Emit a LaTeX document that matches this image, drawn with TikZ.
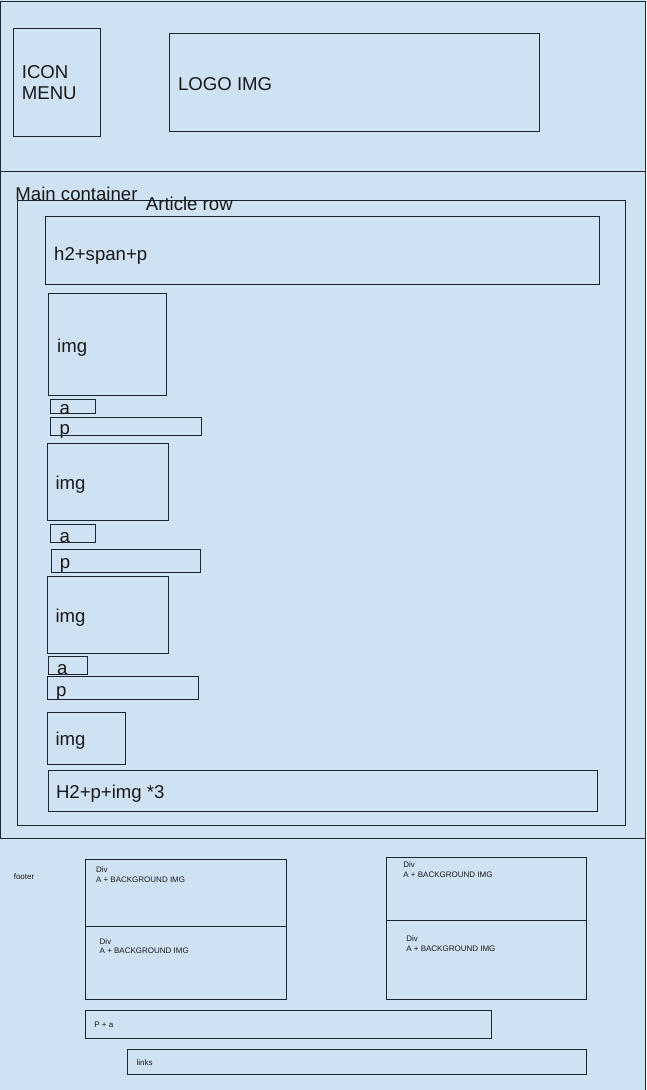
\documentclass[tikz,border=0pt]{standalone}
\usepackage{fontspec}
\setmainfont{Liberation Sans}
\definecolor{bg}{HTML}{CFE2F3}
\definecolor{ln}{HTML}{1C2733}
\begin{document}
\begin{tikzpicture}[x=1pt,y=-1pt,
  box/.style={draw=ln, line width=1pt},
  big/.style={font=\fontsize{18.6}{21}\selectfont, inner sep=0pt, text=black!90},
  small/.style={font=\fontsize{8}{9.7}\selectfont, inner sep=0pt, text=black!90},
]
\fill[bg] (0,0) rectangle (646,1090);
\useasboundingbox (0,0) rectangle (646,1090);
% sections
\draw[box] (0.5,1) rectangle (645.3,171.5);
\draw[box] (0.5,171.5) rectangle (645,838.3);
\draw[box] (-3,838.3) rectangle (645,1095);
% header
\draw[box] (13.6,28.3) rectangle (100.5,136.3);
\node[big, align=left, anchor=north west] (icon) at (21.7,65.7) {ICON\\MENU};
\draw[box] (169.3,33.3) rectangle (539.3,131.3);
\node[big, anchor=base west] (logo) at (177.9,90) {LOGO IMG};
% main
\node[big, anchor=base west] (main) at (15.3,200) {Main container};
\draw[box] (17.3,200.7) rectangle (625.7,825.5);
\node[big, anchor=base west] (row) at (145.7,210.3) {Article row};
\draw[box] (45,216.5) rectangle (599.7,284.4);
\node[big, anchor=base west] (h2) at (54,260) {h2+span+p};
\draw[box] (48.3,293.3) rectangle (166.7,395.3);
\node[big, anchor=base west] (img1) at (57,352) {img};
\draw[box] (50.3,399.3) rectangle (95.3,413.3);
\node[big, anchor=base west] (a1) at (59.3,414) {a};
\draw[box] (50.3,417.3) rectangle (201.7,435.3);
\node[big, anchor=base west] (p1) at (59.3,434) {p};
\draw[box] (47.3,443.3) rectangle (168.3,520.3);
\node[big, anchor=base west] (img2) at (55.3,489.5) {img};
\draw[box] (50.3,524.3) rectangle (95.3,542.3);
\node[big, anchor=base west] (a2) at (59.5,542) {a};
\draw[box] (51.7,549.3) rectangle (200.3,572.3);
\node[big, anchor=base west] (p2) at (59.7,568) {p};
\draw[box] (47.3,576.3) rectangle (168.3,653);
\node[big, anchor=base west] (img3) at (55.3,622.3) {img};
\draw[box] (48.3,656.7) rectangle (87.3,674.3);
\node[big, anchor=base west] (a3) at (57,674) {a};
\draw[box] (47.3,676.7) rectangle (198.3,699);
\node[big, anchor=base west] (p3) at (56,696.5) {p};
\draw[box] (47.3,712.3) rectangle (125.3,764);
\node[big, anchor=base west] (img4) at (55.3,745) {img};
\draw[box] (48.3,770.3) rectangle (597.7,811);
\node[big, anchor=base west] (h2b) at (55.8,798.5) {H2+p+img *3};
% footer
\node[small, anchor=base west] (footer) at (13.6,879) {footer};
\draw[box] (85.3,859.3) rectangle (286.4,999.3);
\draw[box] (85.3,926.7) -- (286.4,926.7);
\node[small, align=left, anchor=north west] (d1) at (95.8,866.3) {Div\\A + BACKGROUND IMG};
\node[small, align=left, anchor=north west] (d2) at (99.5,938.2) {Div\\A + BACKGROUND IMG};
\draw[box] (386.5,857.3) rectangle (586.3,999.3);
\draw[box] (386.5,920.3) -- (586.3,920.3);
\node[small, align=left, anchor=north west] (d3) at (403.2,861.4) {Div\\A + BACKGROUND IMG};
\node[small, align=left, anchor=north west] (d4) at (406.1,935.4) {Div\\A + BACKGROUND IMG};
\draw[box] (85.3,1010.3) rectangle (491.5,1038.7);
\node[small, anchor=base west] (pa) at (94.2,1027.7) {P + a};
\draw[box] (127.3,1049.3) rectangle (586.3,1074.3);
\node[small, anchor=base west] (links) at (136.3,1065) {links};
\end{tikzpicture}
\end{document}
